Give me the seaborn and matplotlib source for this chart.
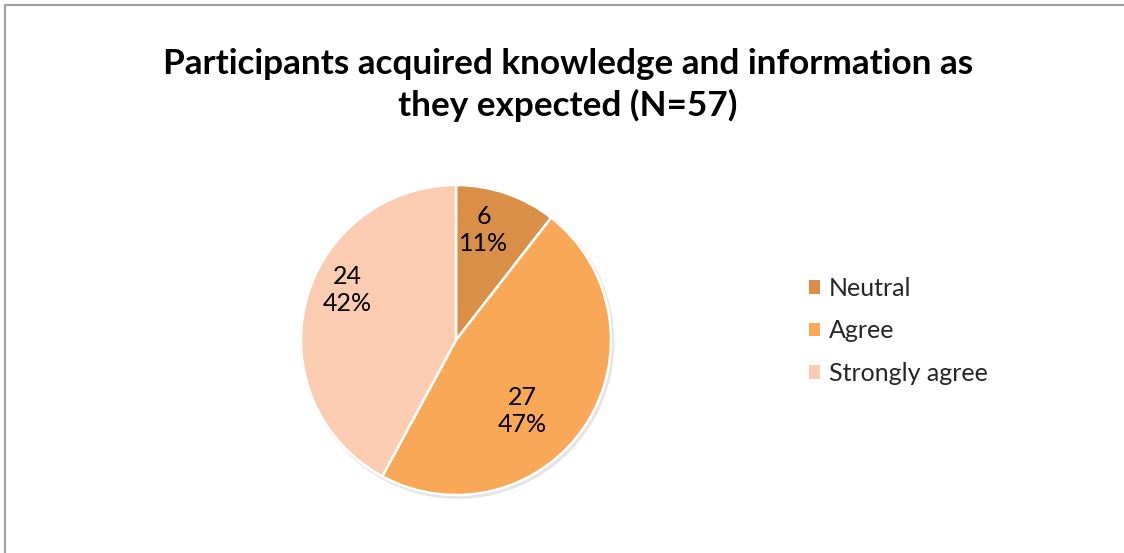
import matplotlib
matplotlib.use("Agg")
import matplotlib.pyplot as plt
import seaborn as sns
from matplotlib.patches import Patch, Circle
from matplotlib.lines import Line2D

# data
categories = ["Neutral", "Agree", "Strongly agree"]
counts = [6, 27, 24]
percents = ["11%", "47%", "42%"]
colors = ["#D98F48", "#F9A857", "#FBCCB2"]

sns.set_theme(style="white")
plt.rcParams["font.family"] = ["Lato", "DejaVu Sans"]

fig = plt.figure(figsize=(11.24, 5.53), dpi=100)

# title, two lines like the original
fig.text(0.5055, 0.885, "Participants acquired knowledge and information as",
         ha="center", va="center", fontsize=25.3, fontweight="bold", color="black")
fig.text(0.5055, 0.810, "they expected (N=57)",
         ha="center", va="center", fontsize=25.3, fontweight="bold", color="black")

# pie (center ~ (456, 340) px, radius ~155 px)
ax = fig.add_axes([(456 - 160) / 1124, (553 - 340 - 160) / 553, 320 / 1124, 320 / 553])
# soft shadow under the pie
ax.add_patch(Circle((0.012, -0.015), 1.01, color="#000000", alpha=0.10, lw=0, zorder=0))
wedges, _ = ax.pie(counts, colors=colors, startangle=90, counterclock=False,
                   radius=1, wedgeprops=dict(edgecolor="white", linewidth=1.8))
lim = 160 / 155
ax.set_xlim(-lim, lim)
ax.set_ylim(-lim, lim)
ax.set_aspect("equal")
ax.axis("off")

# label spots (best-fit style like Excel)
label_pos = [(0.18, 0.71), (0.43, -0.46), (-0.70, 0.32)]
for (lx, ly), n, p in zip(label_pos, counts, percents):
    ax.text(lx, ly, f"{n}\n{p}", ha="center", va="center", fontsize=18,
            linespacing=1.2, color="black")

# legend
handles = [Patch(facecolor=c, edgecolor="none") for c in colors]
fig.legend(handles, categories, loc="center left", bbox_to_anchor=(0.7195, 0.402),
           frameon=False, fontsize=18, handlelength=0.45, handleheight=0.45,
           handletextpad=0.35, labelspacing=0.78, borderpad=0, borderaxespad=0)

# chart frame (only top and left edge show in the crop)
fig.add_artist(Line2D([5 / 1124, 5 / 1124], [0, 1 - 5 / 553], transform=fig.transFigure,
                      color="#A0A0A0", linewidth=1.5))
fig.add_artist(Line2D([5 / 1124, 1], [1 - 5 / 553, 1 - 5 / 553], transform=fig.transFigure,
                      color="#A0A0A0", linewidth=1.5))

plt.savefig("out.png", dpi=100)
